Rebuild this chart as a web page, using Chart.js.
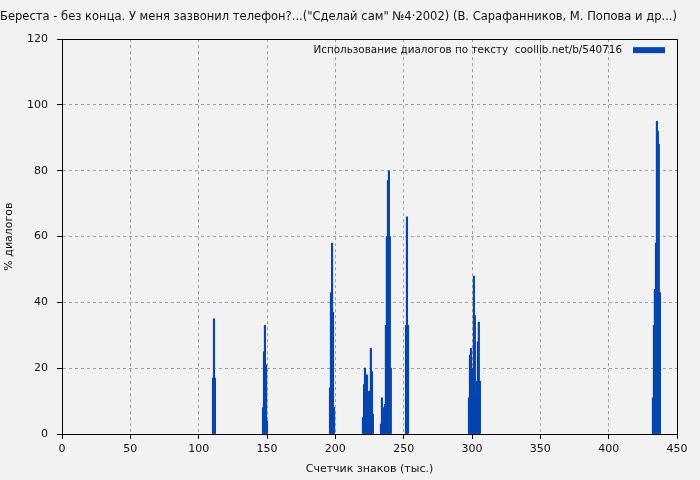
<!DOCTYPE html>
<html lang="ru">
<head>
<meta charset="UTF-8">
<title>Использование диалогов по тексту</title>
<style>
  html, body { margin: 0; padding: 0; background: #f2f2f2; }
</style>
</head>
<body>
<canvas id="myChart" width="700" height="480"></canvas>
<script src="https://cdn.jsdelivr.net/npm/chart.js"></script>
<script>
const chartTitle = 'Береста - без конца. У меня зазвонил телефон?...("Сделай сам" №4·2002) (В. Сарафанников, М. Попова и др...)';
const legendLabel = 'Использование диалогов по тексту  coollib.net/b/540716';
const xAxisLabel = 'Счетчик знаков (тыс.)';
const yAxisLabel = '% диалогов';
const xTicks = [0, 50, 100, 150, 200, 250, 300, 350, 400, 450];
const yTicks = [0, 20, 40, 60, 80, 100, 120];

// позиция в тексте (тыс. знаков) и доля диалогов, %
const positions = [
  110.5, 111.2, 111.9,
  147.1, 147.8, 148.5, 149.3, 150.0,
  196.1, 196.8, 197.6, 198.3, 199.0,
  220.2, 221.0, 221.7, 222.4, 223.2, 223.9, 224.6, 225.3, 226.0, 226.8, 227.5,
  233.4, 234.1, 234.8, 235.5, 236.3, 237.0, 237.7, 238.5, 239.2, 239.9, 240.6,
  251.7, 252.4, 253.2,
  297.8, 298.5, 299.3, 300.0, 300.7, 301.4, 302.1, 302.9, 303.6, 304.3, 305.0, 305.8,
  432.4, 433.1, 433.8, 434.6, 435.3, 436.0, 436.7, 437.5
];
const dialogPct = [
  17, 35, 17,
  8, 25, 33, 21, 4,
  14, 43, 58, 37, 8,
  5, 15, 20, 11, 18, 13, 5, 13, 26, 19, 6,
  3, 11, 8, 3, 9, 33, 60, 77, 80, 60, 20,
  33, 66, 33,
  11, 24, 26, 20, 7, 48, 36, 12, 16, 28, 34, 16,
  11, 33, 44, 58, 95, 92, 88, 43
];

Chart.defaults.font.family = '"DejaVu Sans", sans-serif';
Chart.defaults.font.size = 11;
Chart.defaults.color = '#111';

const frameAndLegend = {
  id: 'frameAndLegend',
  afterDraw(chart) {
    const ctx = chart.ctx;
    const a = chart.chartArea;
    ctx.save();
    ctx.strokeStyle = '#000';
    ctx.lineWidth = 1;
    ctx.strokeRect(Math.round(a.left) + 0.5, Math.round(a.top) + 0.5,
      Math.round(a.right - a.left), Math.round(a.bottom - a.top));
    // легенда внутри области графика, как у gnuplot
    ctx.font = '10.4px "DejaVu Sans", sans-serif';
    ctx.fillStyle = '#111';
    ctx.textAlign = 'right';
    ctx.textBaseline = 'middle';
    ctx.fillText(legendLabel, a.right - 55, a.top + 11);
    ctx.fillStyle = '#0645ad';
    ctx.fillRect(a.right - 44, a.top + 8, 32, 6);
    ctx.restore();
  }
};

const context = document.getElementById('myChart').getContext('2d');
const myChart = new Chart(context, {
  type: 'bar',
  data: {
    datasets: [{
      label: legendLabel,
      data: positions.map((x, i) => ({ x: x, y: dialogPct[i] })),
      backgroundColor: '#0645ad',
      borderWidth: 0,
      barThickness: 1.5
    }]
  },
  options: {
    responsive: false,
    animation: false,
    layout: { padding: { left: 0, right: 23, top: 0, bottom: 0 } },
    plugins: {
      legend: { display: false },
      tooltip: { enabled: false },
      title: {
        display: true,
        text: chartTitle,
        font: { size: 11.8, weight: 'normal' },
        padding: { top: 10, bottom: 15 }
      }
    },
    scales: {
      x: {
        type: 'linear',
        min: 0,
        max: 450,
        offset: false,
        afterBuildTicks: (scale) => { scale.ticks = xTicks.map(v => ({ value: v })); },
        afterFit: (scale) => { scale.height = 46; },
        ticks: { padding: 4, maxRotation: 0, autoSkip: false },
        grid: { offset: false, color: '#a0a0a0', tickColor: '#000', tickLength: 5, tickBorderDash: [] },
        border: { display: true, color: '#000', width: 1, dash: [3, 3] },
        title: { display: true, text: xAxisLabel, padding: { top: 2, bottom: 4 } }
      },
      y: {
        min: 0,
        max: 120,
        afterBuildTicks: (scale) => { scale.ticks = yTicks.map(v => ({ value: v })); },
        afterFit: (scale) => { scale.width = 62; },
        ticks: { padding: 9, autoSkip: false },
        grid: { color: '#a0a0a0', tickColor: '#000', tickLength: 5, tickBorderDash: [] },
        border: { display: true, color: '#000', width: 1, dash: [3, 3] },
        title: { display: true, text: yAxisLabel, padding: { top: 3, bottom: 2 } }
      }
    }
  },
  plugins: [frameAndLegend]
});
</script>
</body>
</html>
